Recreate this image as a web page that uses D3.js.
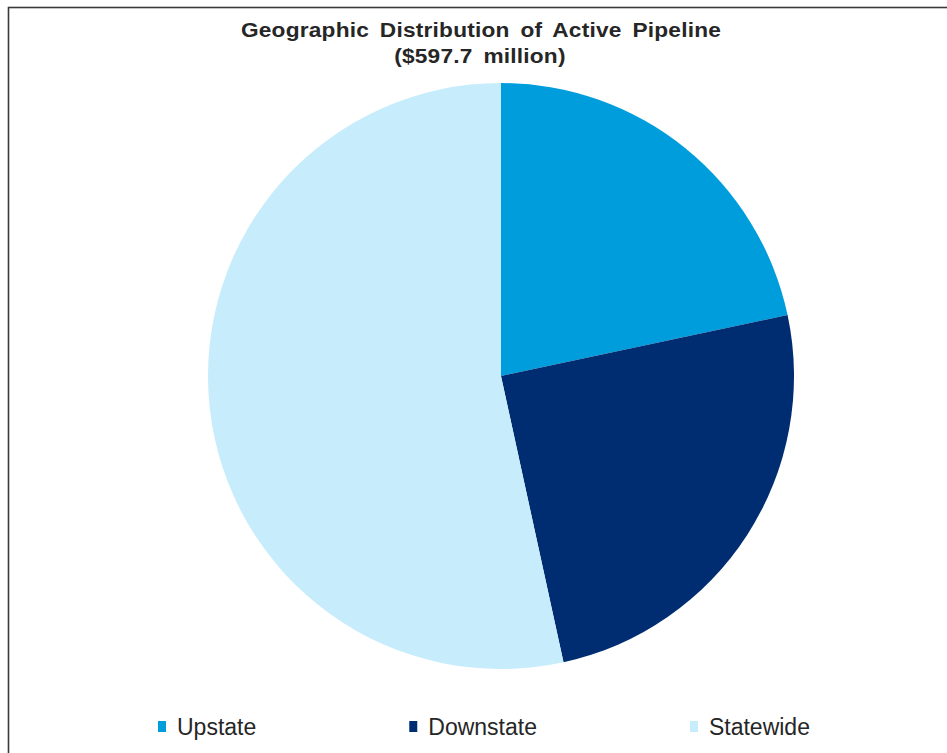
<!DOCTYPE html>
<html>
<head>
<meta charset="utf-8">
<script src="https://cdn.jsdelivr.net/npm/d3@7/dist/d3.min.js"></script>
<style>
  html, body { margin: 0; padding: 0; background: #fff; }
  svg { display: block; }
  text { font-family: "Liberation Sans", Arial, sans-serif; }
</style>
</head>
<body>
<svg id="chart" width="947" height="753"></svg>
<script>
// Active pipeline by region, $ millions (total 597.7)
const regions = ["Upstate", "Downstate", "Statewide"];
const amounts = [129.5, 148.9, 319.3];
const colors = ["#009ddd", "#002d72", "#c7ecfc"];
const titleLines = ["Geographic Distribution of Active Pipeline", "($597.7 million)"];

const W = 947, H = 753;
const svg = d3.select("#chart");

// outer chart frame (right and bottom edges run past the viewport)
svg.append("rect")
  .attr("x", 8.5).attr("y", 7.5)
  .attr("width", W + 20).attr("height", H + 20)
  .attr("fill", "#fff")
  .attr("stroke", "#3a3a3a")
  .attr("stroke-width", 1.6);

// title, set slightly wide
const title = svg.append("g")
  .attr("transform", "translate(481,0) scale(1.08,1)")
  .append("text")
  .attr("text-anchor", "middle")
  .attr("font-weight", "bold")
  .attr("font-size", 21)
  .attr("letter-spacing", 0.2)
  .attr("word-spacing", 4)
  .attr("fill", "#262626");
title.append("tspan").attr("x", 0).attr("y", 37).text(titleLines[0]);
title.append("tspan").attr("x", -1).attr("y", 63).text(titleLines[1]);

// pie
const cx = 501, cy = 376, r = 293;
const data = regions.map((name, i) => ({ name, value: amounts[i], color: colors[i] }));
const pie = d3.pie().value(d => d.value).sort(null);
const arc = d3.arc().innerRadius(0).outerRadius(r);

svg.append("g")
  .attr("transform", `translate(${cx},${cy})`)
  .selectAll("path")
  .data(pie(data))
  .join("path")
  .attr("d", arc)
  .attr("fill", d => d.data.color);

// legend: entries laid out left to right, each one after the previous label
const legend = svg.append("g");
const swatchToText = 19, entryGap = 153;
let lx = 158;
data.forEach(d => {
  const g = legend.append("g").attr("transform", `translate(${lx},0)`);
  g.append("rect")
    .attr("x", 0).attr("y", 721)
    .attr("width", 8).attr("height", 11)
    .attr("fill", d.color);
  const t = g.append("text")
    .attr("x", swatchToText).attr("y", 735)
    .attr("font-size", 23)
    .attr("fill", "#262626")
    .text(d.name);
  lx += swatchToText + t.node().getComputedTextLength() + entryGap;
});
</script>
</body>
</html>
